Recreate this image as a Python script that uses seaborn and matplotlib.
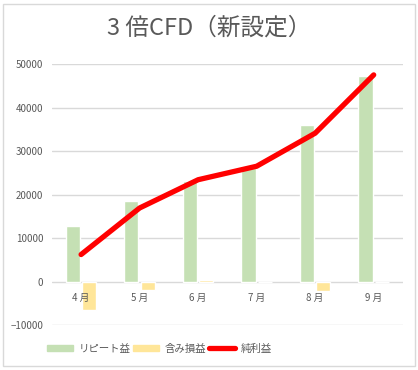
import pandas as pd
import numpy as np
import matplotlib.pyplot as plt
import seaborn as sns
from matplotlib.patches import Patch, Rectangle
from matplotlib.lines import Line2D

# chart values
months = ['4 月', '5 月', '6 月', '7 月', '8 月', '9 月']
repeat_profit = [12700, 18600, 23200, 26200, 36000, 47200]
unrealized = [-6600, -2000, 300, -200, -2200, -100]
net_profit = [6200, 16900, 23400, 26500, 34100, 47500]
series_names = ['リピート益', '含み損益', '純利益']

sns.set_theme(style='white')
plt.rcParams['font.family'] = ['Noto Sans CJK JP', 'DejaVu Sans']

gray = '#595959'
grid = '#D9D9D9'
colors = {'リピート益': '#C5E0B4', '含み損益': '#FFE699'}

df = pd.DataFrame({
    'month': months * 2,
    'value': repeat_profit + unrealized,
    'series': [series_names[0]] * len(months) + [series_names[1]] * len(months),
})

fig = plt.figure(figsize=(4.18, 3.70), dpi=100)
ax = fig.add_axes([0.124, 0.1216, 0.84, 0.7054])

yticks = list(range(-10000, 50001, 10000))
for y in yticks:
    ax.axhline(y, color=grid, linewidth=1, zorder=0)

sns.barplot(data=df, x='month', y='value', hue='series', order=months,
            hue_order=series_names[:2], palette=colors, width=0.56, gap=0.14,
            ax=ax, legend=False, saturation=1, zorder=1)
sns.lineplot(x=np.arange(len(months)), y=net_profit, color='#FF0000',
             linewidth=3.8, ax=ax, solid_capstyle='round', solid_joinstyle='round',
             zorder=4)

ax.set_xlim(-0.5, len(months) - 0.5)
ax.set_ylim(-10000, 50000)
ax.set_yticks(yticks)
ax.grid(False)
ax.set_axisbelow(False)
for s in ['top', 'right', 'left', 'bottom']:
    ax.spines[s].set_visible(False)
ax.spines['bottom'].set_position(('data', 0))
ax.set_xlabel('')
ax.set_ylabel('')
ax.tick_params(axis='both', length=0, labelsize=7, labelcolor=gray)
ax.tick_params(axis='x', pad=8)
ax.tick_params(axis='y', pad=6)

fig.text(0.5, 0.925, '3 倍CFD（新設定）', ha='center', va='center',
         fontsize=17, color=gray)

handles = [Patch(color=colors[series_names[0]]), Patch(color=colors[series_names[1]]),
           Line2D([0], [0], color='#FF0000', linewidth=3.8, solid_capstyle='round')]
fig.legend(handles, series_names, loc='center left', bbox_to_anchor=(0.09, 0.058),
           ncol=3, frameon=False, fontsize=7.5, labelcolor=gray, handlelength=2.5,
           handleheight=0.6, handletextpad=0.5, columnspacing=0.3)

fig.patches.append(Rectangle((0.008, 0.01), 0.984, 0.98, transform=fig.transFigure,
                             fill=False, edgecolor=grid, linewidth=1))

fig.savefig('out.png', dpi=100)
